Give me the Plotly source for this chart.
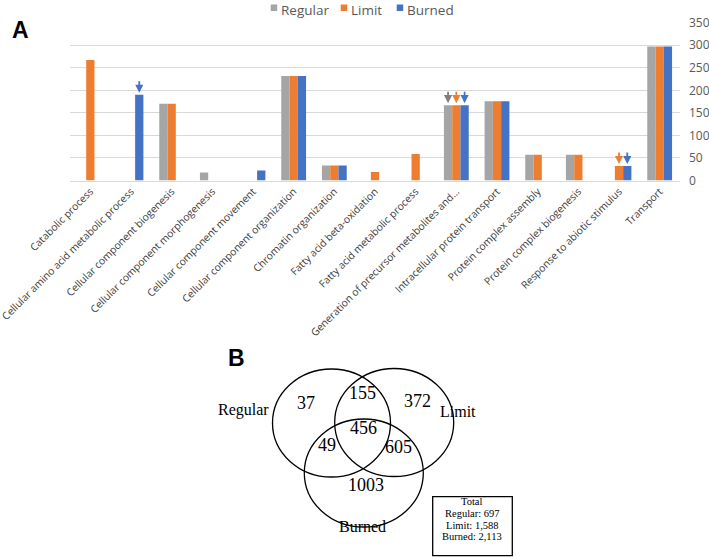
import plotly.graph_objects as go

W, H = 709, 558


def px(x):
    return x / W


def py(y):
    return 1 - y / H


# ---------------- Panel A data ----------------
categories = [
    "Catabolic process",
    "Cellular amino acid metabolic process",
    "Cellular component biogenesis",
    "Cellular component morphogenesis",
    "Cellular component movement",
    "Cellular component organization",
    "Chromatin organization",
    "Fatty acid beta-oxidation",
    "Fatty acid metabolic process",
    "Generation of precursor metabolites and...",
    "Intracellular protein transport",
    "Protein complex assembly",
    "Protein complex biogenesis",
    "Response to abiotic stimulus",
    "Transport",
]
regular = [None, None, 170, 18, None, 232, 33, None, None, 167, 176, 57, 57, None, 297]
limit = [267, None, 170, None, None, 232, 33, 19, 59, 167, 176, 57, 57, 32, 297]
burned = [None, 190, None, None, 22, 232, 33, None, None, 167, 176, None, None, 32, 297]
series_names = ["Regular", "Limit", "Burned"]
y_ticks = [0, 50, 100, 150, 200, 250, 300, 350]

# arrows marking bars: (category index, series)
arrow_marks = [(1, "Burned"), (9, "Regular"), (9, "Limit"), (9, "Burned"),
               (13, "Limit"), (13, "Burned")]

# ---------------- Panel B data ----------------
venn_sets = ["Regular", "Limit", "Burned"]
only_regular = 37
regular_limit = 155
only_limit = 372
all_three = 456
regular_burned = 49
limit_burned = 605
only_burned = 1003

# ---------------- styles ----------------
colors = ["#A5A5A5", "#ED7D31", "#4472C4"]
arrow_colors = ["#7F7F7F", "#ED7D31", "#4472C4"]
bargap = 0.39

fig = go.Figure()
series_values = [regular, limit, burned]
for name, vals, col in zip(series_names, series_values, colors):
    fig.add_bar(x=categories, y=vals, name=name, marker_color=col,
                marker_line_width=0, showlegend=False)

bar_w = (1 - bargap) / 3
for ci, s in arrow_marks:
    si = series_names.index(s)
    fig.add_annotation(x=ci + (si - 1) * bar_w, y=series_values[si][ci],
                       xref="x", yref="y", text="", showarrow=True,
                       arrowhead=2, arrowsize=0.9, arrowwidth=1.8,
                       arrowcolor=arrow_colors[si], ax=0, ay=-15, standoff=2)

# Legend (Excel style: small square + name)
legend_sq_x = [270.7, 340.7, 396.7]
for name, col, sx in zip(series_names, colors, legend_sq_x):
    fig.add_shape(type="rect", xref="paper", yref="paper",
                  x0=px(sx), x1=px(sx + 6.5), y0=py(11), y1=py(4.5),
                  line=dict(width=0), fillcolor=col)
    fig.add_annotation(x=px(sx + 9.5), y=1, xref="paper", yref="paper",
                       text=name, showarrow=False, xanchor="left", yanchor="top",
                       borderpad=0,
                       font=dict(family="Open Sans", size=13.5, color="#595959"))

# Panel labels
fig.add_annotation(x=px(10), y=py(15), xref="paper", yref="paper",
                   text="<b>A</b>", showarrow=False,
                   font=dict(family="Liberation Sans", size=23, color="black"))
fig.add_annotation(x=px(226), y=py(358), xref="paper", yref="paper",
                   text="<b>B</b>", showarrow=False,
                   font=dict(family="Liberation Sans", size=23, color="black"))

# ---------------- Venn diagram ----------------
circles = {
    "Regular": (331.5, 423, 59, 54),
    "Limit": (394.2, 422.5, 59.5, 54),
    "Burned": (363.8, 473, 59.5, 54),
}
for name in venn_sets:
    cx, cy, rx, ry = circles[name]
    fig.add_shape(type="circle", xref="paper", yref="paper",
                  x0=px(cx - rx), x1=px(cx + rx), y0=py(cy + ry), y1=py(cy - ry),
                  line=dict(color="black", width=1.3), fillcolor="rgba(0,0,0,0)")

serif = "Liberation Serif"
region_text = [
    (only_regular, 306, 415),
    (regular_limit, 362.7, 405),
    (only_limit, 417.7, 413.3),
    (all_three, 363.3, 440),
    (regular_burned, 327.3, 457.3),
    (limit_burned, 398.3, 459),
    (only_burned, 365.7, 496.7),
]
for val, x, y in region_text:
    fig.add_annotation(x=px(x), y=py(y), xref="paper", yref="paper",
                       text=str(val), showarrow=False,
                       font=dict(family=serif, size=18, color="black"))

set_label_pos = {"Regular": (243, 420.7), "Limit": (478, 421.7), "Burned": (362.3, 536.7)}
for name in venn_sets:
    x, y = set_label_pos[name]
    fig.add_annotation(x=px(x), y=py(y), xref="paper", yref="paper",
                       text=name, showarrow=False,
                       font=dict(family=serif, size=16, color="black"))

# Totals box
fig.add_shape(type="rect", xref="paper", yref="paper",
              x0=px(432.7), x1=px(512.3), y0=py(555.7), y1=py(496.7),
              line=dict(color="black", width=1.3), fillcolor="white")
tot_regular = only_regular + regular_limit + all_three + regular_burned
tot_limit = only_limit + regular_limit + all_three + limit_burned
tot_burned = only_burned + regular_burned + all_three + limit_burned
total_lines = ["Total", f"Regular: {tot_regular:,}", f"Limit: {tot_limit:,}",
               f"Burned: {tot_burned:,}"]
for i, line in enumerate(total_lines):
    fig.add_annotation(x=px(472.3), y=py(509.3 + i * 11.7), xref="paper", yref="paper",
                       text=line, showarrow=False,
                       font=dict(family=serif, size=10.5, color="black"))

fig.update_layout(
    width=W, height=H,
    margin=dict(l=0, r=0, t=0, b=0),
    paper_bgcolor="white", plot_bgcolor="white",
    barmode="group", bargap=bargap, bargroupgap=0,
    showlegend=False,
    xaxis=dict(domain=[px(70), px(680)], anchor="y", tickangle=-45,
               tickfont=dict(family="Open Sans", size=10.3, color="#404040"),
               showline=True, linecolor="#D9D9D9", linewidth=1, ticks="",
               showgrid=False, automargin=False, fixedrange=True),
    yaxis=dict(domain=[py(180.5), py(22.7)], range=[0, 350], tickvals=y_ticks,
               side="right", gridcolor="#D9D9D9", gridwidth=1, zeroline=False,
               showline=False, ticks="", automargin=False,
               tickfont=dict(family="Open Sans", size=12, color="#595959"),
               ticklabelstandoff=8),
)

fig.write_html("out.html", config={"displayModeBar": False},
               post_script="document.body.style.margin='0';")
